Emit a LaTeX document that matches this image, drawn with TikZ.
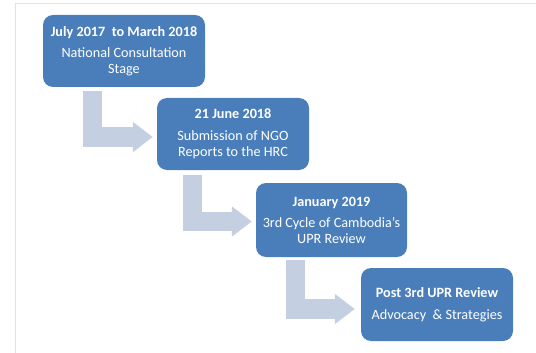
\documentclass[tikz,border=0pt]{standalone}
\usepackage{fontspec}
\setmainfont{Carlito}
\usepackage{tikz}
\usetikzlibrary{calc,arrows.meta,positioning}
\definecolor{stageblue}{HTML}{4A7EBB}
\definecolor{stepgray}{HTML}{C5CFE2}
\definecolor{framegray}{HTML}{E2E2E2}
\tikzset{
  stagebox/.style={fill=stageblue, text=white, rounded corners=10pt, align=center,
    minimum width=152pt, minimum height=73pt, inner sep=0pt,
    font=\fontsize{14.2}{16}\selectfont},
  stagearrow/.style={draw=stepgray, line width=19.5pt, line join=miter,
    -{Triangle[length=20pt,width=29pt]}}
}

\begin{document}
\begin{tikzpicture}[x=1pt, y=-1pt]
  \useasboundingbox (0,0) rectangle (536,353);
  % ── Frame ──
  \draw[framegray, thick] (15,3) -- (536,3);
  \draw[framegray, thick] (15,3) -- (15,353);

  % ── Stages ──
  \node[stagebox, minimum width=162pt, minimum height=72pt] (b1) at (124,51)
    {\textbf{July 2017~ to March 2018}\\[5pt] National Consultation\\ Stage};
  \node[stagebox, minimum height=72pt] (b2) at (233,134)
    {\textbf{21 June 2018}\\[6pt] Submission of NGO\\ Reports to the HRC};
  \node[stagebox, minimum width=151pt, minimum height=74pt] (b3) at (331.5,220)
    {\textbf{January 2019}\\[5pt] 3rd Cycle of Cambodia's\\ UPR Review};
  \node[stagebox] (b4) at (437,304.5)
    {\textbf{Post 3rd UPR Review}\\[6pt] Advocacy~ \& Strategies};

  % ── Bent arrows ──
  \draw[stagearrow] ($(b1.south west)+(49.5,4)$) |- ($(b2.west)+(-4,3)$);
  \draw[stagearrow] ($(b2.south west)+(35.5,5)$) |- ($(b3.west)+(-4,1.5)$);
  \draw[stagearrow] ($(b3.south west)+(39.5,3)$) |- ($(b4.west)+(-6,4.5)$);
\end{tikzpicture}
\end{document}
